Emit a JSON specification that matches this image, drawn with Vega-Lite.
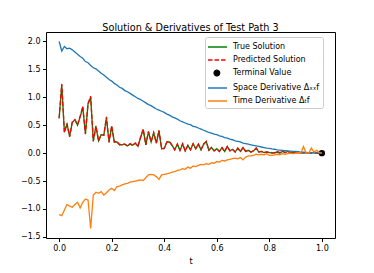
{
  "$schema": "https://vega.github.io/schema/vega-lite/v6.json",
  "width": 289,
  "height": 206,
  "autosize": {"type": "none"},
  "padding": {"left": 46, "top": 32, "right": 39, "bottom": 35},
  "background": "white",
  "config": {
    "font": "DejaVu Sans",
    "view": {"stroke": "black", "strokeWidth": 1},
    "axis": {"grid": false, "domain": false, "tickColor": "black", "labelColor": "black", "labelFontSize": 8, "tickSize": 3.5, "labelPadding": 2.5, "titleFontSize": 8, "titleColor": "black", "titleFontWeight": "normal", "labelFont": "DejaVu Sans", "titleFont": "DejaVu Sans"}
  },
  "title": {"text": "Solution & Derivatives of Test Path 3", "fontSize": 9.7, "fontWeight": "normal", "font": "DejaVu Sans", "offset": -1, "anchor": "middle", "color": "black"},
  "datasets": {
    "paths": [
      {"t":0.00,"true":0.62,"pred":0.63,"space":2.00,"time":-1.10},
      {"t":0.01,"true":1.22,"pred":1.24,"space":1.83,"time":-1.12},
      {"t":0.02,"true":0.38,"pred":0.37,"space":1.91,"time":-1.02},
      {"t":0.03,"true":0.52,"pred":0.53,"space":1.87,"time":-0.92},
      {"t":0.04,"true":0.30,"pred":0.29,"space":1.88,"time":-0.95},
      {"t":0.05,"true":0.55,"pred":0.56,"space":1.85,"time":-0.97},
      {"t":0.06,"true":0.60,"pred":0.60,"space":1.81,"time":-0.92},
      {"t":0.07,"true":0.50,"pred":0.51,"space":1.77,"time":-0.88},
      {"t":0.08,"true":0.65,"pred":0.66,"space":1.73,"time":-0.98},
      {"t":0.09,"true":0.82,"pred":0.84,"space":1.70,"time":-0.88},
      {"t":0.10,"true":0.35,"pred":0.34,"space":1.64,"time":-0.82},
      {"t":0.11,"true":0.88,"pred":0.89,"space":1.62,"time":-0.84},
      {"t":0.12,"true":1.00,"pred":1.02,"space":1.57,"time":-1.35},
      {"t":0.13,"true":0.22,"pred":0.21,"space":1.53,"time":-0.75},
      {"t":0.14,"true":0.48,"pred":0.49,"space":1.51,"time":-0.70},
      {"t":0.15,"true":0.22,"pred":0.22,"space":1.47,"time":-0.72},
      {"t":0.16,"true":0.33,"pred":0.33,"space":1.43,"time":-0.69},
      {"t":0.17,"true":0.32,"pred":0.32,"space":1.40,"time":-0.75},
      {"t":0.18,"true":0.63,"pred":0.65,"space":1.36,"time":-0.71},
      {"t":0.19,"true":0.20,"pred":0.19,"space":1.32,"time":-0.66},
      {"t":0.20,"true":0.48,"pred":0.49,"space":1.29,"time":-0.63},
      {"t":0.21,"true":0.20,"pred":0.20,"space":1.25,"time":-0.67},
      {"t":0.22,"true":0.20,"pred":0.21,"space":1.22,"time":-0.60},
      {"t":0.23,"true":0.15,"pred":0.15,"space":1.18,"time":-0.59},
      {"t":0.24,"true":0.15,"pred":0.16,"space":1.16,"time":-0.57},
      {"t":0.25,"true":0.16,"pred":0.16,"space":1.12,"time":-0.55},
      {"t":0.26,"true":0.13,"pred":0.13,"space":1.10,"time":-0.54},
      {"t":0.27,"true":0.16,"pred":0.17,"space":1.07,"time":-0.52},
      {"t":0.28,"true":0.14,"pred":0.14,"space":1.04,"time":-0.51},
      {"t":0.29,"true":0.18,"pred":0.18,"space":1.01,"time":-0.50},
      {"t":0.30,"true":0.12,"pred":0.12,"space":0.98,"time":-0.49},
      {"t":0.31,"true":0.28,"pred":0.29,"space":0.96,"time":-0.48},
      {"t":0.32,"true":0.42,"pred":0.43,"space":0.93,"time":-0.49},
      {"t":0.33,"true":0.15,"pred":0.15,"space":0.90,"time":-0.44},
      {"t":0.34,"true":0.38,"pred":0.39,"space":0.87,"time":-0.39},
      {"t":0.35,"true":0.20,"pred":0.20,"space":0.85,"time":-0.38},
      {"t":0.36,"true":0.36,"pred":0.37,"space":0.82,"time":-0.39},
      {"t":0.37,"true":0.18,"pred":0.18,"space":0.79,"time":-0.42},
      {"t":0.38,"true":0.40,"pred":0.41,"space":0.77,"time":-0.47},
      {"t":0.39,"true":0.08,"pred":0.08,"space":0.75,"time":-0.39},
      {"t":0.40,"true":0.08,"pred":0.09,"space":0.73,"time":-0.38},
      {"t":0.41,"true":0.20,"pred":0.20,"space":0.70,"time":-0.37},
      {"t":0.42,"true":0.20,"pred":0.21,"space":0.68,"time":-0.36},
      {"t":0.43,"true":0.14,"pred":0.14,"space":0.65,"time":-0.34},
      {"t":0.44,"true":0.06,"pred":0.06,"space":0.63,"time":-0.33},
      {"t":0.45,"true":0.16,"pred":0.16,"space":0.61,"time":-0.31},
      {"t":0.46,"true":0.05,"pred":0.05,"space":0.58,"time":-0.30},
      {"t":0.47,"true":0.16,"pred":0.17,"space":0.56,"time":-0.28},
      {"t":0.48,"true":0.04,"pred":0.04,"space":0.54,"time":-0.29},
      {"t":0.49,"true":0.14,"pred":0.14,"space":0.52,"time":-0.25},
      {"t":0.50,"true":0.06,"pred":0.06,"space":0.51,"time":-0.27},
      {"t":0.51,"true":0.17,"pred":0.17,"space":0.48,"time":-0.23},
      {"t":0.52,"true":0.08,"pred":0.08,"space":0.47,"time":-0.24},
      {"t":0.53,"true":0.16,"pred":0.16,"space":0.45,"time":-0.22},
      {"t":0.54,"true":0.06,"pred":0.06,"space":0.43,"time":-0.20},
      {"t":0.55,"true":0.16,"pred":0.16,"space":0.41,"time":-0.21},
      {"t":0.56,"true":0.21,"pred":0.21,"space":0.39,"time":-0.19},
      {"t":0.57,"true":0.05,"pred":0.05,"space":0.37,"time":-0.20},
      {"t":0.58,"true":0.10,"pred":0.10,"space":0.36,"time":-0.17},
      {"t":0.59,"true":0.04,"pred":0.04,"space":0.34,"time":-0.18},
      {"t":0.60,"true":0.08,"pred":0.08,"space":0.33,"time":-0.15},
      {"t":0.61,"true":0.03,"pred":0.03,"space":0.31,"time":-0.16},
      {"t":0.62,"true":0.10,"pred":0.10,"space":0.30,"time":-0.13},
      {"t":0.63,"true":0.03,"pred":0.03,"space":0.28,"time":-0.14},
      {"t":0.64,"true":0.12,"pred":0.12,"space":0.27,"time":-0.12},
      {"t":0.65,"true":0.04,"pred":0.04,"space":0.25,"time":-0.11},
      {"t":0.66,"true":0.07,"pred":0.07,"space":0.24,"time":-0.10},
      {"t":0.67,"true":0.02,"pred":0.02,"space":0.22,"time":-0.09},
      {"t":0.68,"true":0.09,"pred":0.09,"space":0.21,"time":-0.10},
      {"t":0.69,"true":0.03,"pred":0.03,"space":0.20,"time":-0.08},
      {"t":0.70,"true":0.10,"pred":0.10,"space":0.18,"time":-0.12},
      {"t":0.71,"true":0.03,"pred":0.03,"space":0.17,"time":-0.07},
      {"t":0.72,"true":0.05,"pred":0.05,"space":0.16,"time":-0.05},
      {"t":0.73,"true":0.02,"pred":0.02,"space":0.15,"time":-0.05},
      {"t":0.74,"true":0.04,"pred":0.04,"space":0.14,"time":-0.04},
      {"t":0.75,"true":0.09,"pred":0.09,"space":0.13,"time":-0.02},
      {"t":0.76,"true":0.02,"pred":0.02,"space":0.12,"time":-0.03},
      {"t":0.77,"true":0.03,"pred":0.03,"space":0.11,"time":-0.02},
      {"t":0.78,"true":0.01,"pred":0.01,"space":0.10,"time":-0.03},
      {"t":0.79,"true":0.02,"pred":0.02,"space":0.09,"time":-0.01},
      {"t":0.80,"true":0.01,"pred":0.02,"space":0.085,"time":-0.04},
      {"t":0.81,"true":0.00,"pred":0.01,"space":0.075,"time":-0.04},
      {"t":0.82,"true":0.01,"pred":0.00,"space":0.07,"time":-0.03},
      {"t":0.83,"true":0.02,"pred":0.03,"space":0.06,"time":-0.02},
      {"t":0.84,"true":0.00,"pred":0.01,"space":0.055,"time":-0.03},
      {"t":0.85,"true":0.03,"pred":0.04,"space":0.05,"time":-0.01},
      {"t":0.86,"true":0.01,"pred":0.01,"space":0.045,"time":-0.02},
      {"t":0.87,"true":0.03,"pred":0.03,"space":0.04,"time":-0.01},
      {"t":0.88,"true":0.01,"pred":0.01,"space":0.035,"time":0.00},
      {"t":0.89,"true":0.02,"pred":0.02,"space":0.03,"time":-0.01},
      {"t":0.90,"true":0.01,"pred":0.01,"space":0.03,"time":0.00},
      {"t":0.91,"true":0.01,"pred":0.01,"space":0.025,"time":0.01},
      {"t":0.92,"true":0.00,"pred":0.00,"space":0.02,"time":0.00},
      {"t":0.93,"true":0.01,"pred":0.01,"space":0.02,"time":0.12},
      {"t":0.94,"true":0.00,"pred":0.00,"space":0.015,"time":0.00},
      {"t":0.95,"true":0.01,"pred":0.01,"space":0.01,"time":0.00},
      {"t":0.96,"true":0.00,"pred":0.00,"space":0.01,"time":0.09},
      {"t":0.97,"true":0.01,"pred":0.01,"space":0.01,"time":0.02},
      {"t":0.98,"true":0.00,"pred":0.00,"space":0.005,"time":0.05},
      {"t":0.99,"true":0.00,"pred":0.00,"space":0.005,"time":0.01},
      {"t":1.00,"true":0.00,"pred":0.00,"space":0.00,"time":0.00}
    ],
    "terminal": [{"t": 1.0, "v": 0.0, "series": "term"}]
  },
  "encoding": {
    "x": {"field": "t", "type": "quantitative", "scale": {"domain": [-0.05, 1.05], "nice": false, "zero": false},
      "axis": {"values": [0, 0.2, 0.4, 0.6, 0.8, 1.0], "format": ".1f", "title": "t", "titlePadding": 5}},
    "y": {"field": "v", "type": "quantitative", "scale": {"domain": [-1.52, 2.17], "nice": false, "zero": false},
      "axis": {"values": [-1.5, -1.0, -0.5, 0, 0.5, 1.0, 1.5, 2.0], "format": ".1f", "title": null, "labelExpr": "replace(datum.label, '-', '\u2212')"}},
    "color": {"field": "series", "type": "nominal",
      "scale": {"domain": ["true", "pred", "term", "space", "time"], "range": ["#008000", "#ff0000", "#000000", "#1f77b4", "#ff7f0e"]},
      "legend": {
        "orient": "none", "legendX": 159, "legendY": 5, "title": null,
        "fillColor": "white", "strokeColor": "#cccccc", "cornerRadius": 2, "padding": 3,
        "labelFontSize": 8, "labelFont": "DejaVu Sans", "labelColor": "black", "labelOffset": 11,
        "symbolType": "stroke", "symbolSize": 156, "symbolStrokeWidth": 1.3, "rowPadding": 2,
        "labelExpr": "datum.value === 'true' ? 'True Solution' : datum.value === 'pred' ? 'Predicted Solution' : datum.value === 'term' ? 'Terminal Value' : datum.value === 'space' ? 'Space Derivative \u0394\u2093\u2093f' : 'Time Derivative \u0394\u209cf'",
        "encoding": {
          "symbols": {
            "shape": {"value": {"expr": "(datum.value === 'term' ? 'M-0.15,0A0.45,0.45,0,1,1,0.75,0A0.45,0.45,0,1,1,-0.15,0Z' : 'M-1.12,0H1.92')"}},
            "fill": {"value": {"expr": "(datum.value === 'term' ? 'black' : 'transparent')"}},
            "strokeDash": {"value": {"expr": "(datum.value === 'pred' ? [4.5, 2] : [1, 0])"}}
          }
        }
      }}
  },
  "layer": [
    {"data": {"name": "paths"}, "transform": [{"fold": ["true", "pred", "space", "time"], "as": ["series", "v"]}, {"filter": "datum.series === 'true'"}],
     "mark": {"type": "line", "strokeWidth": 1.3}},
    {"data": {"name": "paths"}, "transform": [{"fold": ["true", "pred", "space", "time"], "as": ["series", "v"]}, {"filter": "datum.series === 'pred'"}],
     "mark": {"type": "line", "strokeWidth": 1.3, "strokeDash": [4.5, 2]}},
    {"data": {"name": "terminal"},
     "mark": {"type": "point", "filled": true, "size": 40, "opacity": 1}},
    {"data": {"name": "paths"}, "transform": [{"fold": ["true", "pred", "space", "time"], "as": ["series", "v"]}, {"filter": "datum.series === 'space'"}],
     "mark": {"type": "line", "strokeWidth": 1.3}},
    {"data": {"name": "paths"}, "transform": [{"fold": ["true", "pred", "space", "time"], "as": ["series", "v"]}, {"filter": "datum.series === 'time'"}],
     "mark": {"type": "line", "strokeWidth": 1.3}}
  ]
}
